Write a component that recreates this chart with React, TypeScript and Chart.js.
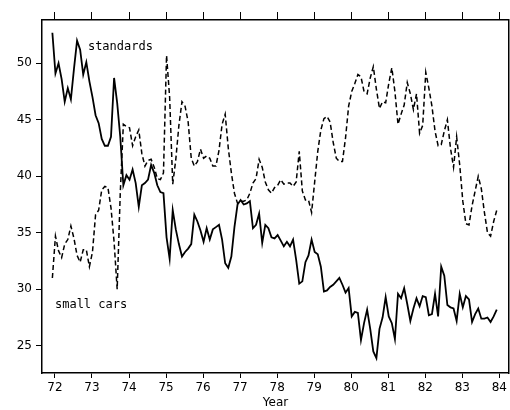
import React, { useEffect, useRef } from 'react';
import { Chart, registerables } from 'chart.js';

Chart.register(...registerables);

// Monthly observations, first month plotted at this year value
const startYear = 71.93;
const monthStep = 1 / 12;

// Standards (solid line), percent
const standards = [
  52.7, 49.1, 50.0, 48.6, 46.6, 47.8, 46.8, 49.5, 52.0, 51.2, 49.0, 50.1,
  48.4, 47.0, 45.4, 44.7, 43.3, 42.7, 42.7, 43.5, 48.7, 46.5, 43.5, 39.2,
  40.1, 39.7, 40.6, 39.4, 37.3, 39.2, 39.4, 39.7, 41.0, 40.3, 39.2, 38.6,
  38.5, 34.6, 32.7, 37.0, 35.3, 34.0, 32.9, 33.3, 33.6, 34.0, 36.6, 36.0,
  35.2, 34.2, 35.4, 34.4, 35.3, 35.5, 35.7, 34.4, 32.3, 31.9, 32.9, 35.5,
  37.5, 37.9, 37.5, 37.6, 37.8, 35.4, 35.7, 36.7, 34.1, 35.7, 35.4, 34.6,
  34.5, 34.8, 34.3, 33.8, 34.2, 33.8, 34.4, 32.6, 30.5, 30.7, 32.4, 33.0,
  34.4, 33.3, 33.1, 32.0, 29.8, 29.9, 30.2, 30.4, 30.7, 31.0, 30.4, 29.7,
  30.1, 27.6, 28.0, 27.9, 25.5, 27.0, 28.2, 26.5, 24.5, 23.9, 26.5, 27.5,
  29.3, 27.6, 27.0, 25.6, 29.6, 29.2, 30.1, 28.7, 27.2, 28.3, 29.2, 28.5,
  29.4, 29.3, 27.7, 27.8, 29.6, 27.6, 32.0, 31.2, 28.6, 28.4, 28.3, 27.2,
  29.6, 28.4, 29.4, 29.1, 27.1, 27.8, 28.3, 27.4, 27.4, 27.5, 27.1, 27.6,
  28.2,
];

// Small cars (dashed line), percent
const smallCars = [
  31.0, 34.7, 33.4, 32.8, 34.0, 34.4, 35.6, 34.5, 33.0, 32.4, 33.5, 33.5,
  32.0, 33.3, 36.6, 37.0, 38.8, 39.1, 39.0, 37.2, 34.2, 30.0, 38.5, 44.6,
  44.4, 44.3, 42.7, 43.5, 44.1, 42.0, 40.9, 41.4, 41.5, 40.8, 39.8, 39.7,
  40.3, 50.7, 47.0, 39.3, 41.5, 44.5, 46.6, 46.2, 44.8, 41.6, 40.9, 41.3,
  42.4, 41.6, 41.8, 41.6, 40.9, 40.9, 42.3, 44.6, 45.5, 42.5, 40.3, 38.5,
  37.6, 37.8, 37.8, 37.9, 38.5, 39.4, 39.8, 41.5, 40.8, 39.5, 38.8, 38.5,
  39.0, 39.2, 39.7, 39.3, 39.4, 39.4, 39.1, 39.5, 42.2, 38.7, 37.9, 37.9,
  36.8, 39.5, 42.2, 44.1, 45.1, 45.3, 44.8, 43.0, 41.6, 41.3, 41.3, 43.4,
  46.2, 47.5, 48.2, 49.0, 48.8, 47.5, 47.3, 48.7, 49.7, 47.7, 46.0, 46.6,
  46.5, 48.2, 49.6, 47.5, 44.6, 45.5, 46.3, 48.3, 47.3, 45.9, 47.3, 43.8,
  44.5, 49.2, 47.8, 46.2, 44.0, 42.7, 42.8, 44.0, 45.0, 42.5, 40.8, 43.5,
  41.0, 37.8, 35.8, 35.7, 37.4, 38.7, 40.0, 38.9, 36.8, 35.0, 34.7, 36.0,
  37.0,
];

const xTickYears = [72, 73, 74, 75, 76, 77, 78, 79, 80, 81, 82, 83, 84];
const yTickValues = [25, 30, 35, 40, 45, 50];

const labelTexts = ['standards', 'small cars'];
const labelX = [72.89, 72.0];
const labelY = [51.45, 28.6];

const X_MIN = 71.65;
const X_MAX = 84.26;
const Y_MIN = 22.59;
const Y_MAX = 53.83;

const toPoints = (vals: number[]) =>
  vals.map((v, i) => ({ x: startYear + i * monthStep, y: v }));

const seriesLabelPlugin = {
  id: 'seriesLabels',
  afterDatasetsDraw(chart: any) {
    const { ctx, scales } = chart;
    const xs = scales.x;
    const ys = scales.y;
    ctx.save();
    ctx.font = '12px "DejaVu Sans Mono"';
    ctx.fillStyle = '#000';
    ctx.textAlign = 'left';
    ctx.textBaseline = 'middle';
    labelTexts.forEach((t, i) => {
      ctx.fillText(t, xs.getPixelForValue(labelX[i]), ys.getPixelForValue(labelY[i]));
    });
    ctx.restore();
  },
};

const tickFont = { family: '"DejaVu Sans", sans-serif', size: 12 };

export default function App() {
  const canvasRef = useRef<HTMLCanvasElement | null>(null);

  useEffect(() => {
    if (!canvasRef.current) return;
    const chart = new Chart(canvasRef.current, {
      type: 'line',
      data: {
        datasets: [
          {
            label: 'standards',
            data: toPoints(standards),
            borderColor: '#000',
            borderWidth: 1.8,
            pointRadius: 0,
            tension: 0,
            fill: false,
          },
          {
            label: 'small cars',
            data: toPoints(smallCars),
            borderColor: '#000',
            borderWidth: 1.5,
            borderDash: [5, 3],
            pointRadius: 0,
            tension: 0,
            fill: false,
          },
        ],
      },
      options: {
        responsive: false,
        animation: false,
        layout: { padding: { left: 0, right: 1, top: 0, bottom: 0 } },
        plugins: {
          legend: { display: false },
          tooltip: { enabled: false },
        },
        scales: {
          x: {
            type: 'linear',
            position: 'bottom',
            min: X_MIN,
            max: X_MAX,
            afterBuildTicks: (s: any) => {
              s.ticks = xTickYears.map((v) => ({ value: v }));
            },
            ticks: {
              autoSkip: false,
              maxRotation: 0,
              color: '#000',
              font: tickFont,
              padding: 3,
              callback: (v: any) => String(v),
            },
            grid: {
              drawOnChartArea: false,
              drawTicks: true,
              tickLength: 5,
              color: '#000',
              lineWidth: 1,
            },
            border: { display: true, color: '#000', width: 1.5 },
            title: {
              display: true,
              text: 'Year',
              color: '#000',
              font: tickFont,
              padding: { top: 0, bottom: 0 },
            },
            afterFit: (s: any) => {
              s.height = 37;
            },
          },
          xTop: {
            type: 'linear',
            position: 'top',
            min: X_MIN,
            max: X_MAX,
            afterBuildTicks: (s: any) => {
              s.ticks = xTickYears.map((v) => ({ value: v }));
            },
            ticks: { display: false },
            grid: {
              drawOnChartArea: false,
              drawTicks: true,
              tickLength: 8,
              color: '#000',
              lineWidth: 1,
            },
            border: { display: true, color: '#000', width: 1.5 },
            afterFit: (s: any) => {
              s.height = 20;
            },
          },
          y: {
            type: 'linear',
            position: 'left',
            min: Y_MIN,
            max: Y_MAX,
            afterBuildTicks: (s: any) => {
              s.ticks = yTickValues.map((v) => ({ value: v }));
            },
            ticks: {
              color: '#000',
              font: tickFont,
              padding: 4,
              callback: (v: any) => String(v),
            },
            grid: {
              drawOnChartArea: false,
              drawTicks: true,
              tickLength: 6,
              color: '#000',
              lineWidth: 1,
            },
            border: { display: true, color: '#000', width: 1.5 },
            afterFit: (s: any) => {
              s.width = 42;
            },
          },
          yRight: {
            type: 'linear',
            position: 'right',
            min: Y_MIN,
            max: Y_MAX,
            ticks: { display: false },
            grid: { display: false },
            border: { display: true, color: '#000', width: 1.5 },
            afterFit: (s: any) => {
              s.width = 0;
            },
          },
        },
      } as any,
      plugins: [seriesLabelPlugin],
    });
    return () => chart.destroy();
  }, []);

  return (
    <div style={{ position: 'fixed', left: 0, top: 0, width: 510, height: 410, background: '#fff' }}>
      <canvas ref={canvasRef} width={510} height={410} style={{ width: 510, height: 410, display: 'block' }} />
    </div>
  );
}
